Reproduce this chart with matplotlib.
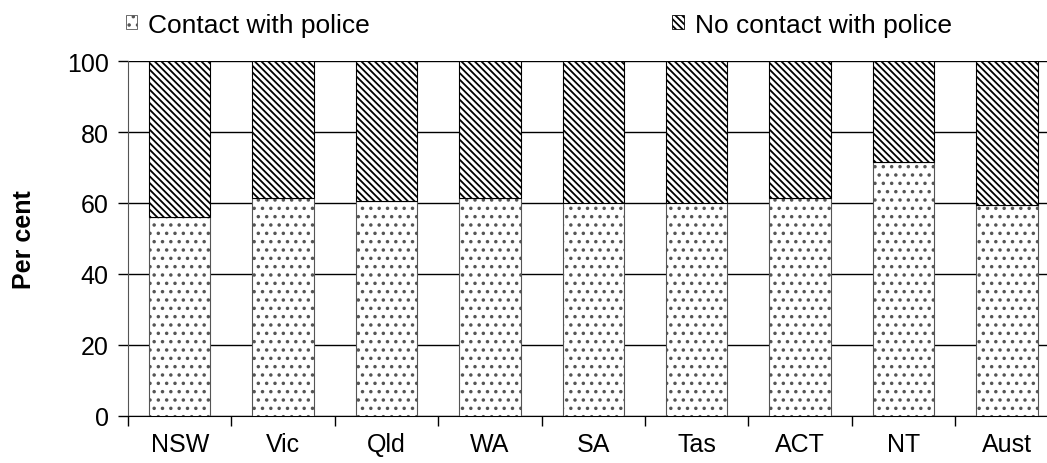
import numpy as np
import matplotlib
matplotlib.use('Agg')
from matplotlib import pyplot as plt
from matplotlib.patches import Patch

plt.rcParams['font.family'] = ['Liberation Sans', 'DejaVu Sans']
plt.rcParams['hatch.linewidth'] = 1.3

# share of people with contact with police, per state (per cent)
states = ['NSW', 'Vic', 'Qld', 'WA', 'SA', 'Tas', 'ACT', 'NT', 'Aust']
contact = [56.0, 61.5, 60.5, 61.5, 60.0, 60.0, 61.5, 71.5, 59.5]
no_contact = [100 - c for c in contact]
yticks = [0, 20, 40, 60, 80, 100]
labels = ['Contact with police', 'No contact with police']

DOTS = '..'
STRIPES = '\\' * 5

fig = plt.figure(figsize=(10.47, 4.64), dpi=100)
ax = fig.add_axes([0.1223, 0.102, 0.8888, 0.764])

x = np.arange(len(states))
ax.bar(x, contact, width=0.593, color='white', edgecolor='#555555',
       linewidth=0.8, hatch=DOTS, zorder=3)
ax.bar(x, no_contact, width=0.593, bottom=contact, color='white',
       edgecolor='black', linewidth=0.8, hatch=STRIPES, zorder=3)

ax.set_xlim(-0.5, len(states) - 0.5)
ax.set_ylim(0, 100)
ax.set_yticks(yticks)
ax.set_yticklabels([str(v) for v in yticks], fontsize=18)
ax.yaxis.grid(True, color='black', linewidth=1.0, zorder=0)
ax.set_axisbelow(True)

# category labels at centres, tick marks at the boundaries
ax.set_xticks(x)
ax.set_xticklabels(states, fontsize=18)
ax.tick_params(axis='x', which='major', length=0, pad=12)
ax.set_xticks(np.arange(len(states) + 1) - 0.5, minor=True)
ax.tick_params(axis='x', which='minor', length=7, width=1, direction='out')
ax.tick_params(axis='y', length=7, width=1, pad=7)

for s in ['top', 'right']:
    ax.spines[s].set_visible(False)
ax.spines['left'].set_color('#555555')
ax.spines['bottom'].set_color('black')

ax.set_ylabel('Per cent', fontsize=18, fontweight='bold', labelpad=22)

h1 = Patch(facecolor='white', edgecolor='#555555', hatch=DOTS, linewidth=0.6)
h2 = Patch(facecolor='white', edgecolor='black', hatch=STRIPES, linewidth=0.6)
for h, lab, xpos in [(h1, labels[0], 0.1098), (h2, labels[1], 0.6321)]:
    fig.legend([h], [lab], loc='upper left', bbox_to_anchor=(xpos, 0.993),
               frameon=False, fontsize=19, handlelength=0.45, handleheight=0.45,
               handletextpad=0.4, borderaxespad=0.2, borderpad=0.2)

fig.savefig('out.png', dpi=100)
